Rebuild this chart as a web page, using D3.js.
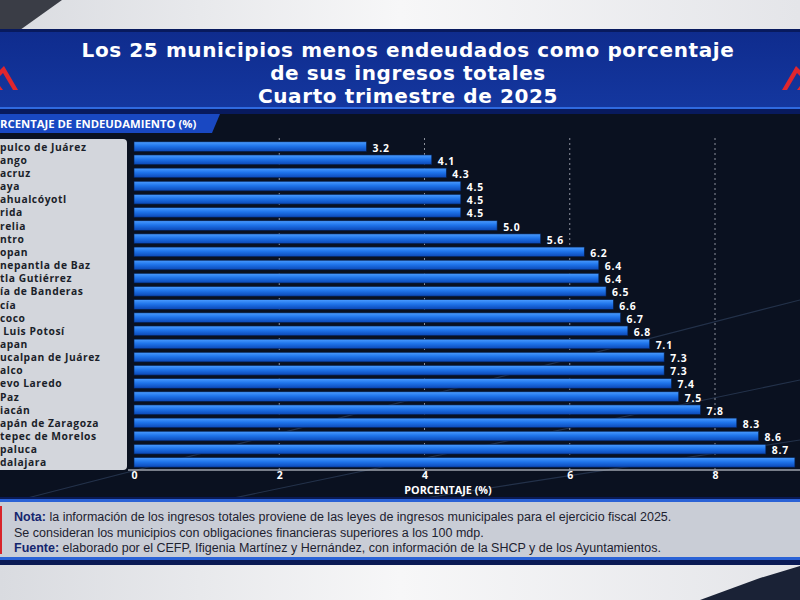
<!DOCTYPE html>
<html><head><meta charset="utf-8">
<script src="https://cdn.jsdelivr.net/npm/d3@7"></script>
<style>html,body{margin:0;padding:0;background:#0a1120;overflow:hidden}</style>
</head><body>
<svg id="c" width="800" height="600"></svg>
<script>
const municipios = ["pulco de Juárez","ango","acruz","aya","ahualcóyotl","rida","relia","ntro","opan","nepantla de Baz","tla Gutiérrez","ía de Banderas","cía","coco"," Luis Potosí","apan","ucalpan de Juárez","alco","evo Laredo","Paz","iacán","apán de Zaragoza","tepec de Morelos","paluca","dalajara"];
const valores = [3.2,4.1,4.3,4.5,4.5,4.5,5.0,5.6,6.2,6.4,6.4,6.5,6.6,6.7,6.8,7.1,7.3,7.3,7.4,7.5,7.8,8.3,8.6,8.7,9.1];
const ticks = [0,2,4,6,8];
const titulo = ["Los 25 municipios menos endeudados como porcentaje","de sus ingresos totales","Cuarto trimestre de 2025"];
const notas = [
  ["Nota:"," la información de los ingresos totales proviene de las leyes de ingresos municipales para el ejercicio fiscal 2025."],
  [""," Se consideran los municipios con obligaciones financieras superiores a los 100 mdp."],
  ["Fuente:"," elaborado por el CEFP, Ifigenia Martínez y Hernández, con información de la SHCP y de los Ayuntamientos."]
];

const svg = d3.select("#c");
const defs = svg.append("defs");
const g1 = defs.append("linearGradient").attr("id","bar").attr("x1",0).attr("y1",0).attr("x2",0).attr("y2",1);
g1.append("stop").attr("offset","0%").attr("stop-color","#4a9cff");
g1.append("stop").attr("offset","45%").attr("stop-color","#1f74ea");
g1.append("stop").attr("offset","100%").attr("stop-color","#0b47b5");
const g2 = defs.append("linearGradient").attr("id","band").attr("x1",0).attr("y1",0).attr("x2",0).attr("y2",1);
g2.append("stop").attr("offset","0%").attr("stop-color","#0f2c8e");
g2.append("stop").attr("offset","100%").attr("stop-color","#14379f");
const g3 = defs.append("linearGradient").attr("id","top").attr("x1",0).attr("y1",0).attr("x2",1).attr("y2",0);
g3.append("stop").attr("offset","0%").attr("stop-color","#d9dbe0");
g3.append("stop").attr("offset","50%").attr("stop-color","#f7f7f8");
g3.append("stop").attr("offset","100%").attr("stop-color","#e4e5e9");

// backgrounds
svg.append("rect").attr("width",800).attr("height",600).attr("fill","#0a1120");
svg.append("rect").attr("x",0).attr("y",0).attr("width",800).attr("height",30).attr("fill","url(#top)");
svg.append("path").attr("d","M0,0 L62,0 L20,30 L0,30 Z").attr("fill","#3a3d46");
svg.append("rect").attr("x",0).attr("y",565).attr("width",800).attr("height",35).attr("fill","url(#top)");
svg.append("path").attr("d","M700,600 L760,578 L800,566 L800,600 Z").attr("fill","#1a2236");

// title band
svg.append("rect").attr("x",0).attr("y",29).attr("width",800).attr("height",85).attr("fill","#081a5e");
svg.append("rect").attr("x",0).attr("y",32).attr("width",800).attr("height",75).attr("fill","url(#band)");
svg.append("rect").attr("x",0).attr("y",107).attr("width",800).attr("height",2).attr("fill","#2f6ae0");
// red logos
svg.append("path").attr("d","M0,70 L4,66 L18,90 L13,90 L3,73 L0,76 Z M0,86 L3,90 L0,90 Z").attr("fill","#e0262e");
svg.append("path").attr("d","M800,70 L796,66 L782,90 L787,90 L797,73 L800,76 Z M800,86 L797,90 L800,90 Z").attr("fill","#e0262e");

svg.append("g").selectAll("text").data(titulo).join("text")
  .attr("x",408).attr("y",(d,i)=>57+i*23)
  .attr("text-anchor","middle").attr("fill","#ffffff")
  .attr("font-family","DejaVu Sans").attr("font-weight","bold").attr("font-size",20)
  .attr("letter-spacing",0.6)
  .text(d=>d);

// header tab
svg.append("path").attr("d","M0,114 L220,114 L212,133 L0,133 Z").attr("fill","#1948c2");
svg.append("text").attr("x",0).attr("y",128).attr("fill","#ffffff")
  .attr("font-family","Open Sans").attr("font-weight","bold").attr("font-size",11.3)
  .text("RCENTAJE DE ENDEUDAMIENTO (%)");

// decorative streaks
const streaks = [[0,505,800,300],[200,505,800,380],[380,505,800,440]];
svg.append("g").selectAll("line").data(streaks).join("line")
  .attr("x1",d=>d[0]).attr("y1",d=>d[1]).attr("x2",d=>d[2]).attr("y2",d=>d[3])
  .attr("stroke","#6f93c8").attr("stroke-opacity",0.25).attr("stroke-width",1.2);

// label panel
svg.append("rect").attr("x",-8).attr("y",139).attr("width",135).attr("height",331).attr("rx",4)
  .attr("fill","#d3d6dc");

// scales
const x = d3.scaleLinear().domain([0,8]).range([134,715]);
const y = d3.scaleBand().domain(municipios.map((d,i)=>i)).range([140.5,468.5]).paddingInner(0.27).paddingOuter(0.1);

// grid
svg.append("g").selectAll("line").data(ticks.filter(t=>t>0)).join("line")
  .attr("x1",d=>x(d)).attr("x2",d=>x(d)).attr("y1",138).attr("y2",470)
  .attr("stroke","#b8bcc6").attr("stroke-opacity",0.75).attr("stroke-dasharray","2,3").attr("stroke-width",1);

// bars
svg.append("g").selectAll("rect").data(valores).join("rect")
  .attr("x",x(0)).attr("y",(d,i)=>y(i)).attr("width",d=>x(d)-x(0)).attr("height",y.bandwidth())
  .attr("fill","url(#bar)").attr("stroke","#06204f").attr("stroke-width",0.6);

// value labels
svg.append("g").selectAll("text").data(valores).join("text")
  .attr("x",d=>x(d)+6).attr("y",(d,i)=>y(i)+y.bandwidth()/2+5)
  .attr("fill","#ffffff").attr("font-family","Open Sans").attr("font-weight","bold").attr("font-size",10.4)
  .attr("letter-spacing",0.8)
  .text(d=>d.toFixed(1));

// category labels
svg.append("g").selectAll("text").data(municipios).join("text")
  .attr("x",0).attr("y",(d,i)=>y(i)+y.bandwidth()/2+4)
  .attr("fill","#1b1f2a").attr("font-family","Open Sans").attr("font-weight","bold").attr("font-size",10.3)
  .attr("letter-spacing",0.55)
  .attr("xml:space","preserve")
  .text(d=>d);

// axis
const ax = svg.append("g").attr("transform","translate(0,470)")
  .call(d3.axisBottom(x).tickValues(ticks).tickSize(0).tickPadding(2).tickFormat(d3.format("d")));
ax.select(".domain").attr("stroke","#9ea3ae").attr("stroke-width",1.5).attr("d","M128,0H800");
ax.selectAll("text").attr("fill","#ffffff").attr("font-family","Open Sans").attr("font-weight","bold").attr("font-size",10.5);
svg.append("text").attr("x",448).attr("y",494).attr("text-anchor","middle").attr("fill","#ffffff")
  .attr("font-family","Open Sans").attr("font-weight","bold").attr("font-size",10.8).text("PORCENTAJE (%)");

// notes panel
svg.append("rect").attr("x",0).attr("y",497).attr("width",800).attr("height",68).attr("fill","#0a1a55");
svg.append("rect").attr("x",0).attr("y",499).attr("width",800).attr("height",3).attr("fill","#2a62d6");
svg.append("rect").attr("x",0).attr("y",502).attr("width",800).attr("height",55).attr("fill","#c9cdd6");
svg.append("rect").attr("x",0).attr("y",557).attr("width",800).attr("height",3).attr("fill","#2a62d6");
svg.append("rect").attr("x",0).attr("y",506).attr("width",2).attr("height",48).attr("fill","#d8232a");
const nt = svg.append("g").selectAll("text").data(notas).join("text")
  .attr("x",14).attr("y",(d,i)=>521+i*15.5)
  .attr("font-family","Liberation Sans").attr("font-size",12.5).attr("fill","#1d2230");
nt.append("tspan").attr("fill","#15266e").attr("font-weight","bold").text(d=>d[0]);
nt.append("tspan").attr("xml:space","preserve").text(d=>d[0]===""?d[1].trim():d[1]);
</script>
</body></html>
